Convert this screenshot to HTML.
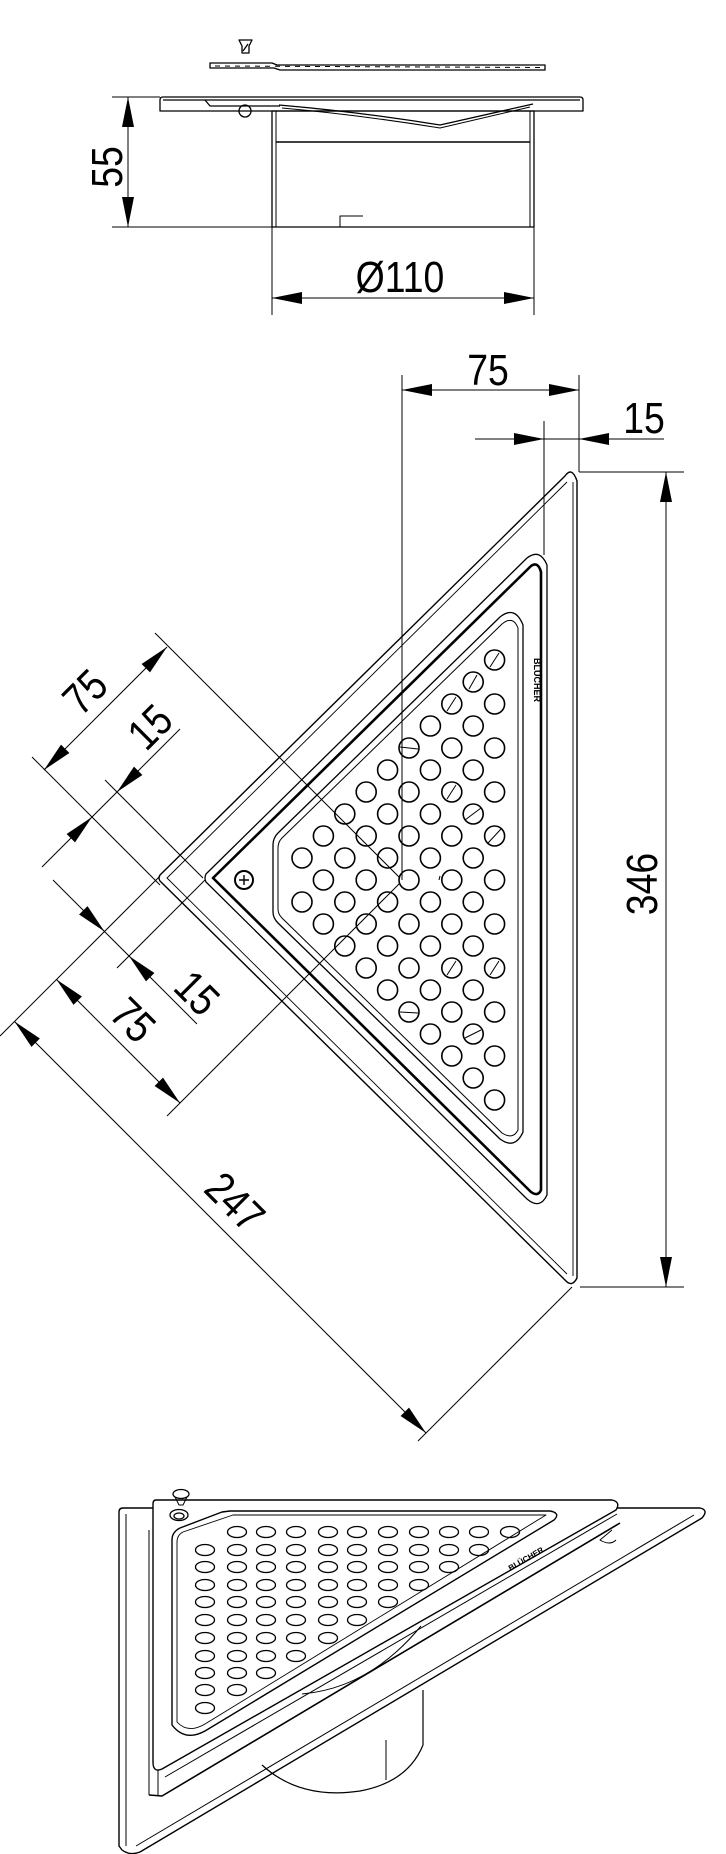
<!DOCTYPE html>
<html><head><meta charset="utf-8"><style>
html,body{margin:0;padding:0;background:#fff;}
svg{display:block;}
text{font-family:"Liberation Sans",sans-serif;font-size:44px;fill:#000;}
</style></head><body>
<svg width="726" height="1854" viewBox="0 0 726 1854" xmlns="http://www.w3.org/2000/svg">
<rect width="726" height="1854" fill="#fff"/>
<g fill="none" stroke="#000" stroke-width="1.3" stroke-linejoin="round">
<!-- TOP SECTION VIEW -->
<path d="M239,40 L252,40 L249,46 L249,53 L242,53 L242,46 Z"/>
<line x1="243" y1="51" x2="248" y2="44"/>
<path d="M210,63 L272,63 L277,65 L545,65 L545,70 L280,70 L274,68 L210,68 Z"/>
<line x1="215" y1="66" x2="540" y2="67.5" stroke-dasharray="5,5" stroke-width="1"/>
<path d="M163,97 L580,97 Q583,97 583,100 L583,111 L160,111 L160,100 Q160,97 163,97 Z"/>
<line x1="163" y1="100" x2="580" y2="100"/>
<path d="M205,100 L210,106 L280,106" />
<circle cx="245" cy="111" r="6"/>
<rect x="272" y="111" width="262" height="116"/>
<line x1="276" y1="111" x2="276" y2="227" stroke-width="1"/>
<line x1="530" y1="111" x2="530" y2="227" stroke-width="1"/>
<line x1="276" y1="142" x2="530" y2="142" stroke-width="1.6"/>
<path d="M279,105 Q360,112 440,125 L533,104"/>
<path d="M282,108 Q360,115 440,128 L530,107" stroke-width="1"/>
<path d="M340,227 L340,216 L363,216" stroke-width="1"/>
<!-- top dims -->
<g stroke-width="1">
<line x1="112" y1="97" x2="160" y2="97"/>
<line x1="112" y1="227" x2="272" y2="227"/>
<line x1="128" y1="97" x2="128" y2="227"/>
<line x1="272" y1="227" x2="272" y2="315"/>
<line x1="534" y1="227" x2="534" y2="315"/>
<line x1="272" y1="298" x2="534" y2="298"/>
<line x1="402" y1="375" x2="402" y2="880"/>
<line x1="579" y1="375" x2="579" y2="472"/>
<line x1="402" y1="390" x2="579" y2="390"/>
<line x1="544" y1="421" x2="544" y2="555"/>
<line x1="475" y1="439" x2="664" y2="439"/>
<line x1="579" y1="472" x2="684" y2="472"/>
<line x1="580" y1="1287" x2="684" y2="1287"/>
<line x1="666" y1="472" x2="666" y2="1287"/>
<!-- diagonal dims -->
<line x1="155" y1="633" x2="400" y2="878"/>
<line x1="32" y1="757" x2="160" y2="885"/>
<line x1="105" y1="780" x2="203" y2="878"/>
<line x1="0" y1="1036" x2="160" y2="876"/>
<line x1="117" y1="968" x2="205" y2="880"/>
<line x1="167" y1="1116" x2="400" y2="883"/>
<line x1="572" y1="1287" x2="418" y2="1441"/>
<line x1="167" y1="647" x2="44" y2="770"/>
<line x1="180" y1="729" x2="42" y2="867"/>
<line x1="53" y1="880" x2="197" y2="1024"/>
<line x1="56.5" y1="979.5" x2="180" y2="1103"/>
<line x1="14.5" y1="1021.5" x2="426" y2="1433"/>
</g>
<!-- MAIN PLAN VIEW -->
<path d="M565,476 L160,875 Q158,878 160,881 L565,1280 Q572,1288 577,1278 L577,481 Q572,466 565,476 Z" stroke-width="1.4"/>
<path d="M567,482 L167,878 L567,1274" stroke-width="0.9"/>
<line x1="573" y1="482" x2="573" y2="1276" stroke-width="0.9"/>
<path d="M527,558 L206,874 Q204,878 206,882 L527,1199 Q540,1210 547,1195 L547,565 Q540,548 527,558 Z" stroke-width="1.3"/>
<path d="M531,566 L213,878 L531,1192 Q538,1197 541,1190 L541,572 Q538,561 531,566 Z" stroke-width="2.6"/>
<path d="M500,617 L278,833 Q273,838 273,845 L273,912 Q273,918 278,923 L500,1139 Q515,1150 523,1132 L523,625 Q515,605 500,617 Z" stroke-width="1.3"/>
<path d="M502,624 L282,838 Q278,842 278,848 L278,909 Q278,914 282,918 L502,1133 Q513,1140 518,1130 L518,628 Q513,615 502,624 Z" stroke-width="1"/>
<circle cx="244" cy="880" r="9" stroke-width="2"/>
<path d="M244,875 V885 M239,880 H249" stroke-width="1.4"/>
<g stroke-width="1.6">
<circle cx="302" cy="858" r="10"/><circle cx="302" cy="902" r="10"/>
<circle cx="323.4" cy="836" r="10"/><circle cx="323.4" cy="880" r="10"/><circle cx="323.4" cy="924" r="10"/>
<circle cx="344.8" cy="814" r="10"/><circle cx="344.8" cy="858" r="10"/><circle cx="344.8" cy="902" r="10"/><circle cx="344.8" cy="946" r="10"/>
<circle cx="366.2" cy="792" r="10"/><circle cx="366.2" cy="836" r="10"/><circle cx="366.2" cy="880" r="10"/><circle cx="366.2" cy="924" r="10"/><circle cx="366.2" cy="968" r="10"/>
<circle cx="387.6" cy="770" r="10"/><circle cx="387.6" cy="814" r="10"/><circle cx="387.6" cy="858" r="10"/><circle cx="387.6" cy="902" r="10"/><circle cx="387.6" cy="946" r="10"/><circle cx="387.6" cy="990" r="10"/>
<circle cx="409" cy="748" r="10"/><circle cx="409" cy="792" r="10"/><circle cx="409" cy="836" r="10"/><circle cx="409" cy="880" r="10"/><circle cx="409" cy="924" r="10"/><circle cx="409" cy="968" r="10"/><circle cx="409" cy="1012" r="10"/>
<circle cx="430.4" cy="726" r="10"/><circle cx="430.4" cy="770" r="10"/><circle cx="430.4" cy="814" r="10"/><circle cx="430.4" cy="858" r="10"/><circle cx="430.4" cy="902" r="10"/><circle cx="430.4" cy="946" r="10"/><circle cx="430.4" cy="990" r="10"/><circle cx="430.4" cy="1034" r="10"/>
<circle cx="451.8" cy="704" r="10"/><circle cx="451.8" cy="748" r="10"/><circle cx="451.8" cy="792" r="10"/><circle cx="451.8" cy="836" r="10"/><circle cx="451.8" cy="880" r="10"/><circle cx="451.8" cy="924" r="10"/><circle cx="451.8" cy="968" r="10"/><circle cx="451.8" cy="1012" r="10"/><circle cx="451.8" cy="1056" r="10"/>
<circle cx="473.2" cy="682" r="10"/><circle cx="473.2" cy="726" r="10"/><circle cx="473.2" cy="770" r="10"/><circle cx="473.2" cy="814" r="10"/><circle cx="473.2" cy="858" r="10"/><circle cx="473.2" cy="902" r="10"/><circle cx="473.2" cy="946" r="10"/><circle cx="473.2" cy="990" r="10"/><circle cx="473.2" cy="1034" r="10"/><circle cx="473.2" cy="1078" r="10"/>
<circle cx="494.6" cy="660" r="10"/><circle cx="494.6" cy="704" r="10"/><circle cx="494.6" cy="748" r="10"/><circle cx="494.6" cy="792" r="10"/><circle cx="494.6" cy="836" r="10"/><circle cx="494.6" cy="880" r="10"/><circle cx="494.6" cy="924" r="10"/><circle cx="494.6" cy="968" r="10"/><circle cx="494.6" cy="1012" r="10"/><circle cx="494.6" cy="1056" r="10"/><circle cx="494.6" cy="1100" r="10"/>
</g>
<g stroke-width="1">
<line x1="490" y1="667" x2="499" y2="653"/><line x1="469" y1="689" x2="477" y2="675"/><line x1="447" y1="711" x2="456" y2="697"/>
<line x1="400" y1="747" x2="418" y2="749"/><line x1="447" y1="799" x2="456" y2="785"/><line x1="465" y1="820" x2="481" y2="808"/>
<line x1="488" y1="843" x2="501" y2="829"/><line x1="490" y1="975" x2="499" y2="961"/><line x1="465" y1="1038" x2="481" y2="1030"/>
<line x1="400" y1="1012" x2="418" y2="1013"/><line x1="447" y1="975" x2="456" y2="961"/>
<line x1="439" y1="880" x2="440" y2="876"/>
</g>
<!-- BOTTOM PERSPECTIVE VIEW -->
<path d="M123,1508 L700,1508 Q709,1510 702,1518 L140,1852 Q130,1856 122,1850 L119,1846 L119,1512 Q119,1508 123,1508 Z" stroke-width="1.4"/>
<line x1="126" y1="1514" x2="126" y2="1846" stroke-width="1"/>
<line x1="694" y1="1515" x2="136" y2="1846" stroke-width="1"/>
<line x1="149" y1="1530" x2="149" y2="1795" stroke-width="1"/>
<line x1="158" y1="1530" x2="158" y2="1795" stroke-width="1"/>
<path d="M620,1523 L162,1796 L149,1795" stroke-width="1.6"/>
<path d="M612,1530 L600,1540 Q610,1546 616,1540" stroke-width="1"/>
<path d="M302,1694 Q370,1688 421,1626" stroke-width="1"/>
<path d="M262,1765 Q300,1800 360,1791 Q408,1782 423,1745 L423,1690" stroke-width="1.2"/>
<line x1="386" y1="1740" x2="386" y2="1780" stroke-width="1"/>
<path d="M156,1500 L612,1500 Q621,1502 616,1510 L162,1769 Q153,1773 153,1762 L153,1504 Q153,1500 156,1500 Z" fill="#fff" stroke-width="1.4"/>
<line x1="617" y1="1514" x2="165" y2="1777" stroke-width="1"/>
<path d="M230,1511 L550,1511 Q561,1513 554,1520 L205,1731 Q185,1742 172,1725 L172,1540 Q172,1532 180,1528 L222,1512 Z" stroke-width="1.4"/>
<path d="M233,1515 L546,1515 L205,1724 Q188,1734 177,1722 L177,1542 Q177,1535 183,1532 Z" stroke-width="0.9"/>
<ellipse cx="181" cy="1494" rx="8" ry="4.5" fill="#fff"/>
<path d="M175,1497 L179,1505 L183,1505 L187,1497" stroke-width="1"/>
<ellipse cx="179" cy="1515" rx="9" ry="5.5"/>
<ellipse cx="179" cy="1516" rx="5" ry="3"/>
<g stroke-width="1.3">
<ellipse cx="237" cy="1532" rx="9.5" ry="5.5"/><ellipse cx="266" cy="1532" rx="9.5" ry="5.5"/><ellipse cx="296" cy="1532" rx="9.5" ry="5.5"/><ellipse cx="328" cy="1532" rx="9.5" ry="5.5"/><ellipse cx="357" cy="1532" rx="9.5" ry="5.5"/><ellipse cx="388" cy="1532" rx="9.5" ry="5.5"/><ellipse cx="419" cy="1532" rx="9.5" ry="5.5"/><ellipse cx="449" cy="1532" rx="9.5" ry="5.5"/><ellipse cx="479" cy="1532" rx="9.5" ry="5.5"/><ellipse cx="510" cy="1532" rx="9.5" ry="5.5"/>
<ellipse cx="205" cy="1550" rx="9.5" ry="5.5"/><ellipse cx="237" cy="1550" rx="9.5" ry="5.5"/><ellipse cx="266" cy="1550" rx="9.5" ry="5.5"/><ellipse cx="296" cy="1550" rx="9.5" ry="5.5"/><ellipse cx="328" cy="1550" rx="9.5" ry="5.5"/><ellipse cx="357" cy="1550" rx="9.5" ry="5.5"/><ellipse cx="388" cy="1550" rx="9.5" ry="5.5"/><ellipse cx="419" cy="1550" rx="9.5" ry="5.5"/><ellipse cx="449" cy="1550" rx="9.5" ry="5.5"/><ellipse cx="479" cy="1550" rx="9.5" ry="5.5"/>
<ellipse cx="205" cy="1567" rx="9.5" ry="5.5"/><ellipse cx="237" cy="1567" rx="9.5" ry="5.5"/><ellipse cx="266" cy="1567" rx="9.5" ry="5.5"/><ellipse cx="296" cy="1567" rx="9.5" ry="5.5"/><ellipse cx="328" cy="1567" rx="9.5" ry="5.5"/><ellipse cx="357" cy="1567" rx="9.5" ry="5.5"/><ellipse cx="388" cy="1567" rx="9.5" ry="5.5"/><ellipse cx="419" cy="1567" rx="9.5" ry="5.5"/><ellipse cx="449" cy="1567" rx="9.5" ry="5.5"/>
<ellipse cx="205" cy="1585" rx="9.5" ry="5.5"/><ellipse cx="237" cy="1585" rx="9.5" ry="5.5"/><ellipse cx="266" cy="1585" rx="9.5" ry="5.5"/><ellipse cx="296" cy="1585" rx="9.5" ry="5.5"/><ellipse cx="328" cy="1585" rx="9.5" ry="5.5"/><ellipse cx="357" cy="1585" rx="9.5" ry="5.5"/><ellipse cx="388" cy="1585" rx="9.5" ry="5.5"/><ellipse cx="419" cy="1585" rx="9.5" ry="5.5"/>
<ellipse cx="205" cy="1602" rx="9.5" ry="5.5"/><ellipse cx="237" cy="1602" rx="9.5" ry="5.5"/><ellipse cx="266" cy="1602" rx="9.5" ry="5.5"/><ellipse cx="296" cy="1602" rx="9.5" ry="5.5"/><ellipse cx="328" cy="1602" rx="9.5" ry="5.5"/><ellipse cx="357" cy="1602" rx="9.5" ry="5.5"/><ellipse cx="388" cy="1602" rx="9.5" ry="5.5"/>
<ellipse cx="205" cy="1620" rx="9.5" ry="5.5"/><ellipse cx="237" cy="1620" rx="9.5" ry="5.5"/><ellipse cx="266" cy="1620" rx="9.5" ry="5.5"/><ellipse cx="296" cy="1620" rx="9.5" ry="5.5"/><ellipse cx="328" cy="1620" rx="9.5" ry="5.5"/><ellipse cx="357" cy="1620" rx="9.5" ry="5.5"/>
<ellipse cx="205" cy="1638" rx="9.5" ry="5.5"/><ellipse cx="237" cy="1638" rx="9.5" ry="5.5"/><ellipse cx="266" cy="1638" rx="9.5" ry="5.5"/><ellipse cx="296" cy="1638" rx="9.5" ry="5.5"/><ellipse cx="328" cy="1638" rx="9.5" ry="5.5"/>
<ellipse cx="205" cy="1656" rx="9.5" ry="5.5"/><ellipse cx="237" cy="1656" rx="9.5" ry="5.5"/><ellipse cx="266" cy="1656" rx="9.5" ry="5.5"/><ellipse cx="296" cy="1656" rx="9.5" ry="5.5"/>
<ellipse cx="205" cy="1673" rx="9.5" ry="5.5"/><ellipse cx="237" cy="1673" rx="9.5" ry="5.5"/><ellipse cx="266" cy="1673" rx="9.5" ry="5.5"/>
<ellipse cx="205" cy="1690" rx="9.5" ry="5.5"/><ellipse cx="237" cy="1690" rx="9.5" ry="5.5"/>
<ellipse cx="205" cy="1708" rx="9.5" ry="5.5"/>
</g>
</g>
<!-- arrows -->
<g fill="#000" stroke="none">
<polygon points="128,97 122,127 134,127"/><polygon points="128,227 122,197 134,197"/>
<polygon points="272,298 302,292 302,304"/><polygon points="534,298 504,292 504,304"/>
<polygon points="402,390 432,384 432,396"/><polygon points="579,390 549,384 549,396"/>
<polygon points="544,439 514,433 514,445"/><polygon points="579,439 609,433 609,445"/>
<polygon points="666,472 660,502 672,502"/><polygon points="666,1287 660,1257 672,1257"/>
<polygon points="167,647 150,672.4 141.6,664"/><polygon points="44,770 69.4,753 61,744.6"/>
<polygon points="117,792 142.4,775 134,766.6"/><polygon points="92,817 66.6,834 75,842.4"/>
<polygon points="104.5,931.5 87.5,906.1 79.1,914.5"/><polygon points="129,956 154.4,973 146,981.4"/>
<polygon points="56.5,979.5 81.9,996.5 73.5,1004.9"/><polygon points="180,1103 163,1077.6 154.6,1086"/>
<polygon points="14.5,1021.5 39.9,1038.5 31.5,1046.9"/><polygon points="426,1433 409,1407.6 400.6,1416"/>
</g>
<!-- labels -->
<g text-anchor="middle" dominant-baseline="central">
<text transform="translate(107,167) rotate(-90) scale(0.85,1)">55</text>
<text transform="translate(400,277) scale(0.85,1)">Ø110</text>
<text transform="translate(488,370) scale(0.85,1)">75</text>
<text transform="translate(644,418) scale(0.85,1)">15</text>
<text transform="translate(642,884) rotate(-90) scale(0.85,1)">346</text>
<text transform="translate(85,692) rotate(-45) scale(0.85,1)">75</text>
<text transform="translate(150,727) rotate(-45) scale(0.85,1)">15</text>
<text transform="translate(197,993) rotate(45) scale(0.85,1)">15</text>
<text transform="translate(133,1020) rotate(45) scale(0.85,1)">75</text>
<text transform="translate(235,1202) rotate(45) scale(0.85,1)">247</text>
<text transform="translate(537,680) rotate(90)" style="font-size:9px;font-weight:bold">BLÜCHER</text>
<text transform="translate(526,1559) rotate(-30)" style="font-size:8px;font-weight:bold">BLÜCHER</text>
</g>
</svg>
</body></html>
